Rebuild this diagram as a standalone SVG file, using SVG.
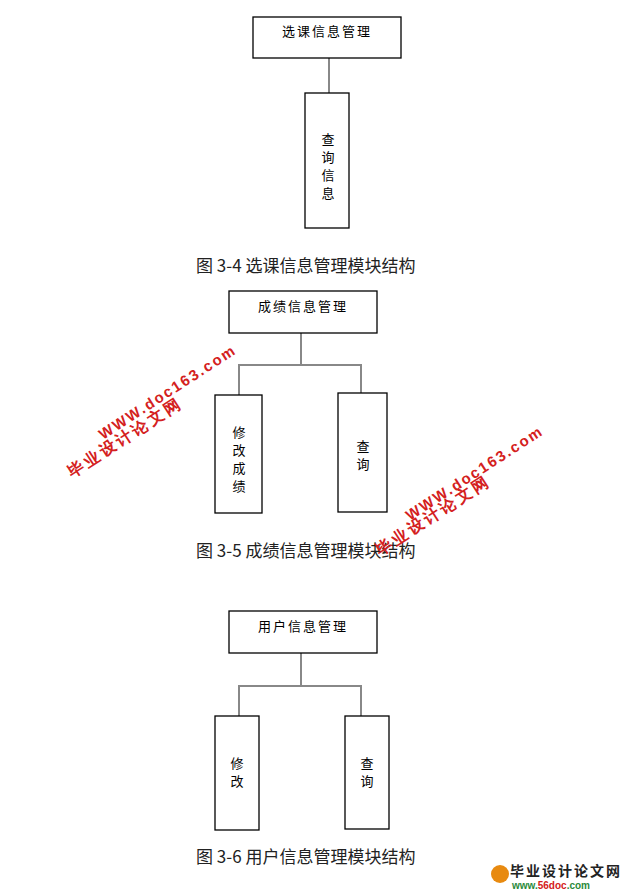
<svg xmlns="http://www.w3.org/2000/svg" width="637" height="894" viewBox="0 0 637 894">
<style>
.b{fill:#fff;stroke:#000;stroke-width:1.3}
.c{stroke:#888;stroke-width:2;fill:none}
.t{font-family:"Noto Sans CJK SC",sans-serif;font-size:13px;fill:#000}
.cap{font-family:"Noto Sans CJK SC",sans-serif;font-size:17px;fill:#222}
.wm{font-family:"Liberation Sans",sans-serif;font-weight:bold;fill:#d42020}
</style>
<rect width="637" height="894" fill="#fff"/>
<g id="connectors">
<line class="c" x1="329" y1="58" x2="329" y2="93"/>
<path class="c" d="M301 333V365M239 395V365H361V395"/>
<path class="c" d="M301 653V686M239 716V686H361V716"/>
</g>
<g id="n1"><rect class="b" x="253" y="17" width="148" height="41"/><text class="t" x="327" y="36" text-anchor="middle" letter-spacing="2">选课信息管理</text></g>
<g id="n2"><rect class="b" x="305" y="93" width="44" height="135"/><text class="t" text-anchor="middle"><tspan x="328" y="144">查</tspan><tspan x="328" y="162">询</tspan><tspan x="328" y="180">信</tspan><tspan x="328" y="198">息</tspan></text></g>
<text class="cap" x="196" y="272">图 3-4 选课信息管理模块结构</text>
<g id="n3"><rect class="b" x="229" y="291" width="148" height="42"/><text class="t" x="303" y="311" text-anchor="middle" letter-spacing="2">成绩信息管理</text></g>
<g id="n4"><rect class="b" x="215" y="395" width="47" height="118"/><text class="t" text-anchor="middle"><tspan x="239" y="437">修</tspan><tspan x="239" y="455">改</tspan><tspan x="239" y="473">成</tspan><tspan x="239" y="491">绩</tspan></text></g>
<g id="n5"><rect class="b" x="338" y="393" width="49" height="119"/><text class="t" text-anchor="middle"><tspan x="363" y="451">查</tspan><tspan x="363" y="469">询</tspan></text></g>
<text class="cap" x="196" y="557">图 3-5 成绩信息管理模块结构</text>
<g id="n6"><rect class="b" x="229" y="611" width="148" height="42"/><text class="t" x="303" y="631" text-anchor="middle" letter-spacing="2">用户信息管理</text></g>
<g id="n7"><rect class="b" x="215" y="716" width="44" height="114"/><text class="t" text-anchor="middle"><tspan x="237" y="768">修</tspan><tspan x="237" y="786">改</tspan></text></g>
<g id="n8"><rect class="b" x="345" y="716" width="44" height="113"/><text class="t" text-anchor="middle"><tspan x="367" y="768">查</tspan><tspan x="367" y="786">询</tspan></text></g>
<text class="cap" x="196" y="863">图 3-6 用户信息管理模块结构</text>
<g transform="translate(103,440) rotate(-33)"><text class="wm" font-size="15" letter-spacing="2">WWW.doc163.com</text></g>
<g transform="translate(72,478) rotate(-33)"><text class="wm" font-family="Noto Sans CJK SC" font-size="16" letter-spacing="3">毕业设计论文网</text></g>
<g transform="translate(410,521) rotate(-33)"><text class="wm" font-size="15" letter-spacing="2">WWW.doc163.com</text></g>
<g transform="translate(380,556) rotate(-33)"><text class="wm" font-family="Noto Sans CJK SC" font-size="16" letter-spacing="3">毕业设计论文网</text></g>
<circle cx="500" cy="874" r="9" fill="#e88a10"/>
<text x="510" y="876" font-family="Noto Sans CJK SC,sans-serif" font-size="14" font-weight="bold" fill="#222" letter-spacing="2">毕业设计论文网</text>
<text x="512" y="889" font-family="Liberation Sans,sans-serif" font-size="10" font-weight="bold" fill="#2a8a3a">www.<tspan fill="#d42020">56doc</tspan>.com</text>
</svg>
